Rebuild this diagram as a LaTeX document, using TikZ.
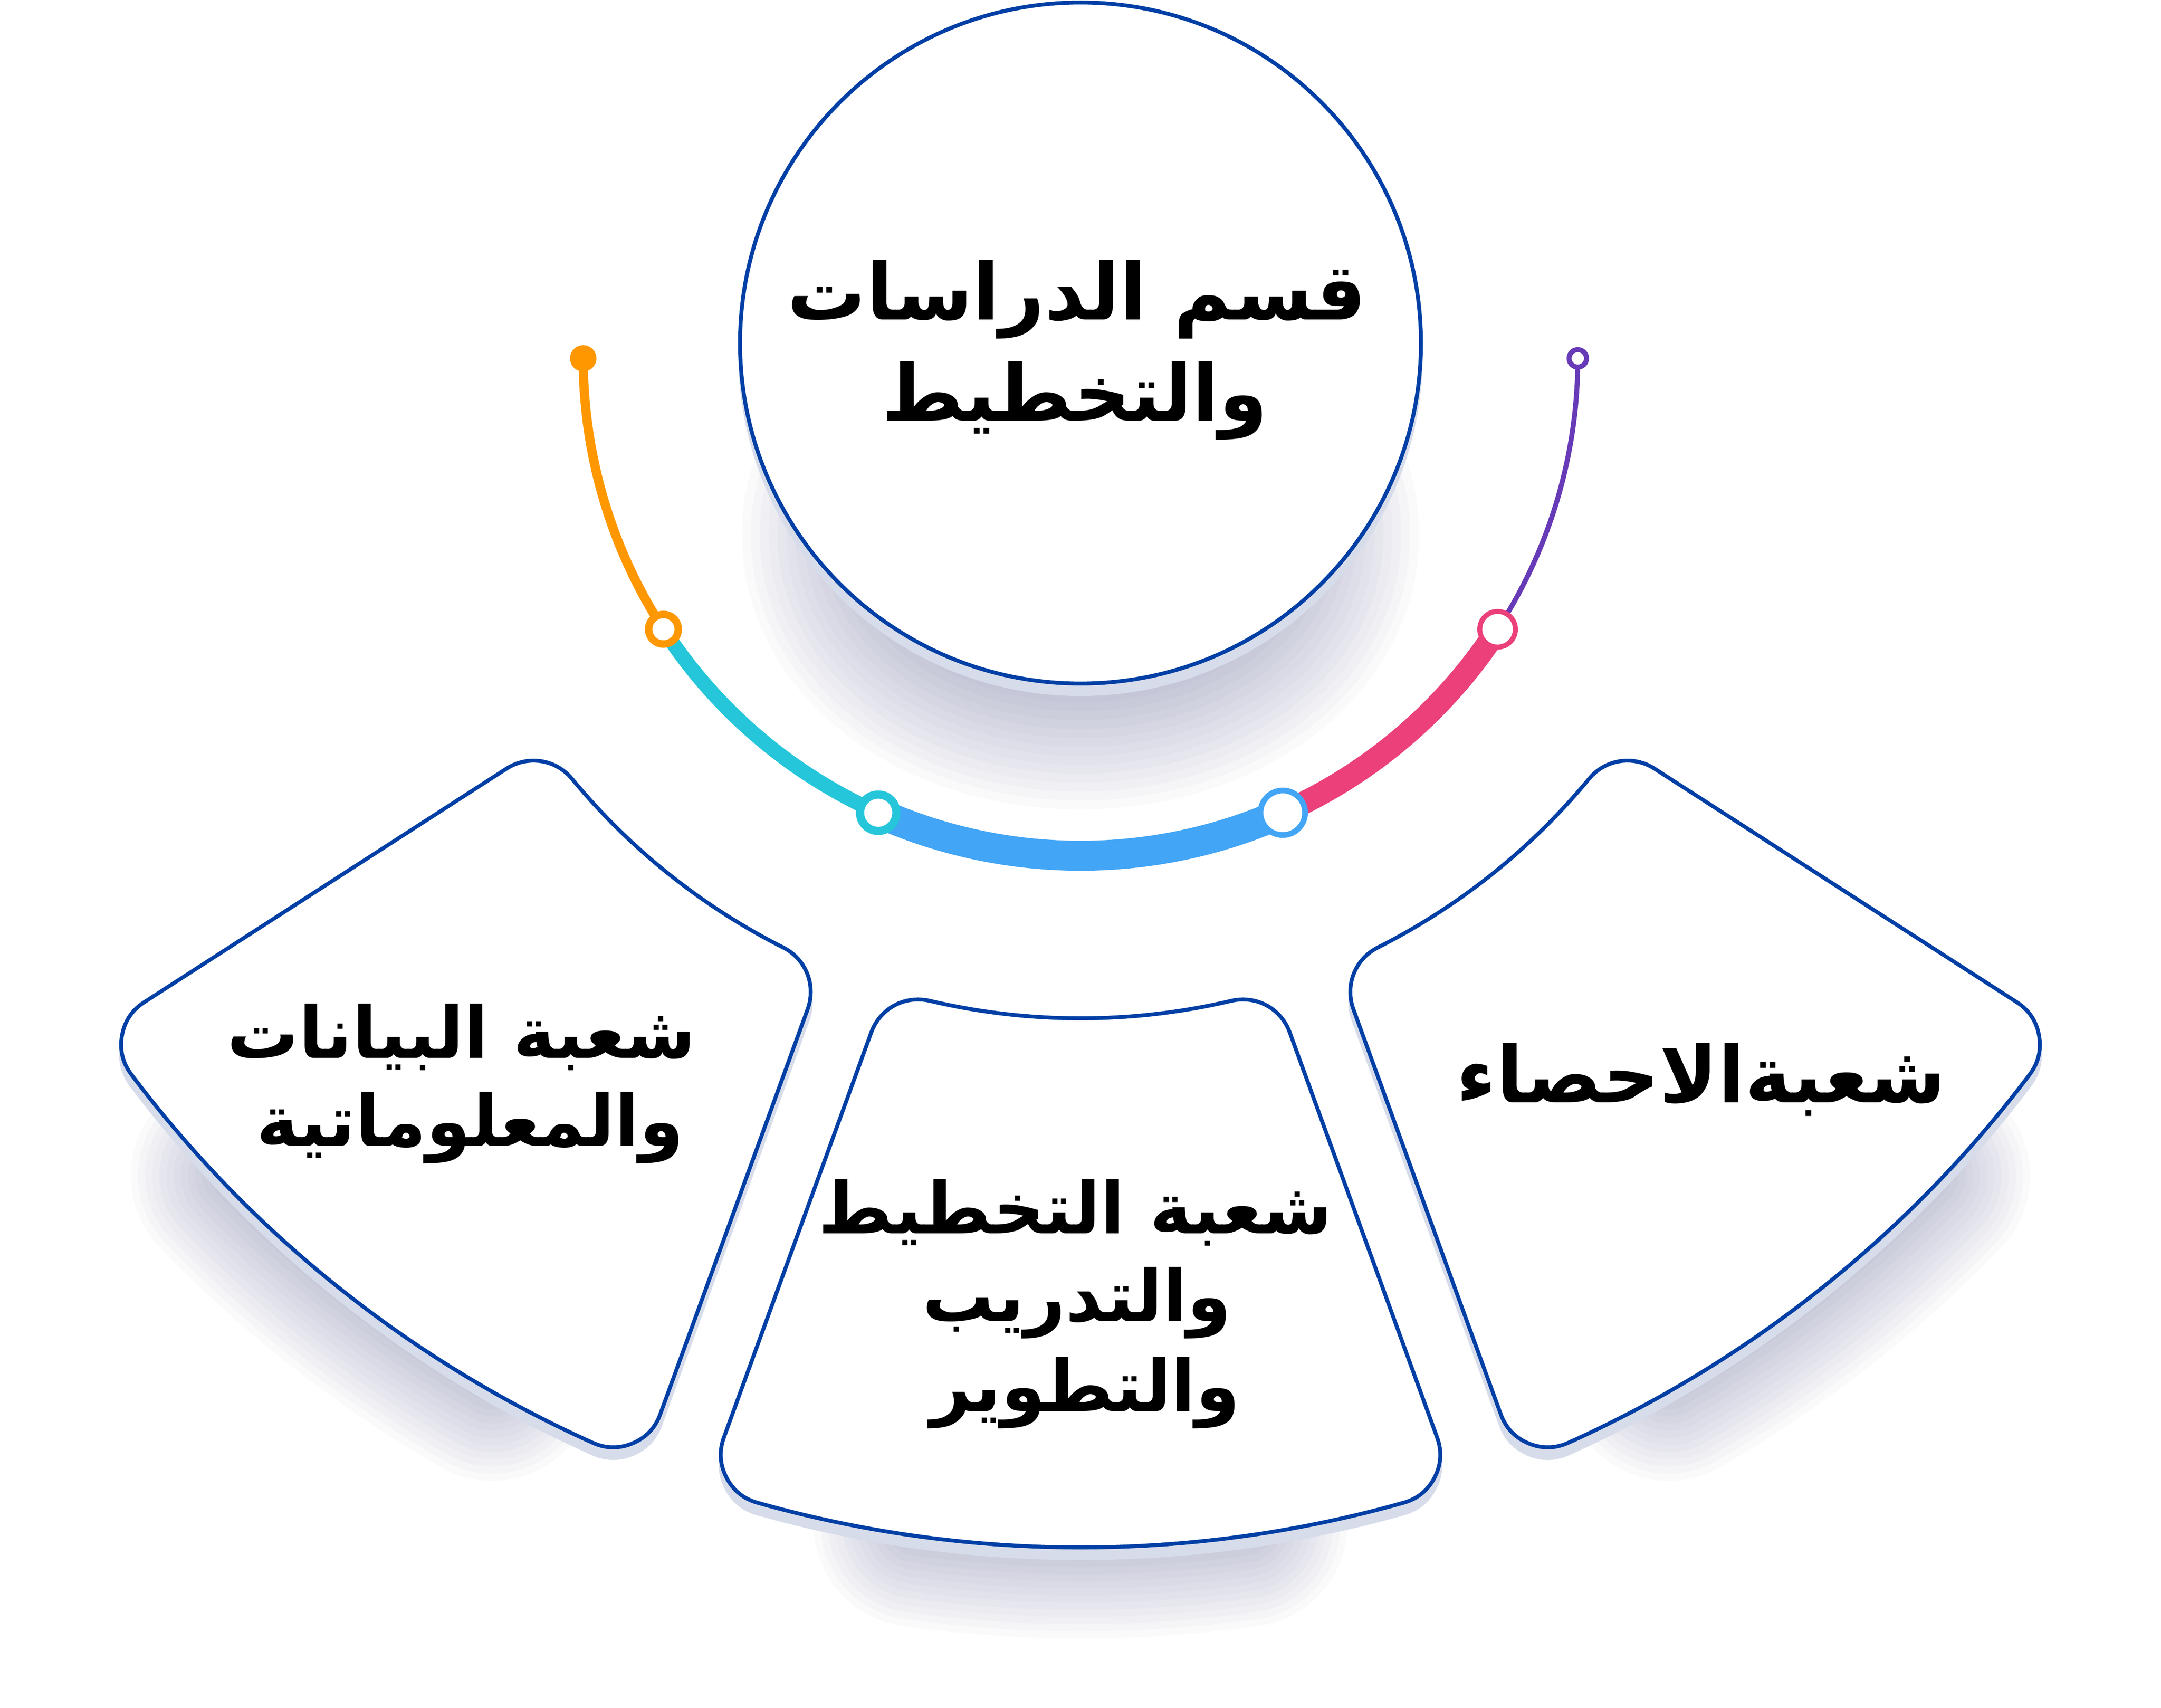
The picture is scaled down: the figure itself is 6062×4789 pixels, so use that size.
\documentclass[tikz,border=0pt]{standalone}
\usepackage{fontspec}
\newfontfamily\arabicfont[Script=Arabic]{DejaVu Sans}
\TeXXeTstate=1
\definecolor{deptblue}{RGB}{0,63,165}
\definecolor{bandgray}{RGB}{215,220,234}
\definecolor{hazeblue}{RGB}{100,105,155}
\definecolor{arcamber}{RGB}{255,152,0}
\definecolor{arcteal}{RGB}{38,198,218}
\definecolor{arcsky}{RGB}{66,165,245}
\definecolor{arcpink}{RGB}{236,64,122}
\definecolor{arcviolet}{RGB}{103,58,183}

% inner outlines of the three ring pieces (about the ring centre)
\newcommand\leftpiece{(142.98:3195) arc[start angle=142.98, end angle=114.22, radius=3195] -- (116.78:1991) arc[start angle=116.78, end angle=140.42, radius=1991] -- cycle}
\newcommand\midpiece{(105.78:3195) arc[start angle=105.78, end angle=74.22, radius=3195] -- (76.78:1991) arc[start angle=76.78, end angle=103.22, radius=1991] -- cycle}
\newcommand\rightpiece{(65.78:3195) arc[start angle=65.78, end angle=37.02, radius=3195] -- (39.58:1991) arc[start angle=39.58, end angle=63.22, radius=1991] -- cycle}
\newcommand\hazepath[2]{(#1:2900) arc[start angle=#1, end angle=#2, radius=2900] -- (#2:3300) arc[start angle=#2, end angle=#1, radius=3300] -- cycle}

\tikzset{
    haze/.style={draw=hazeblue, draw opacity=0.03, line join=round},
    band/.style={draw=bandgray, fill=bandgray, line width=72.75pt, line join=round},
    rim/.style={draw=deptblue, fill=deptblue, line width=72.75pt, line join=round},
    face/.style={draw=white, fill=white, line width=67.25pt, line join=round},
    ring/.style={circle, fill=white, inner sep=0pt},
    deptlabel/.style={font=\arabicfont\bfseries\fontsize{55}{70}\selectfont, inner sep=0pt, anchor=base},
    deptsmall/.style={deptlabel, font=\arabicfont\bfseries\fontsize{50}{62}\selectfont}
}

\begin{document}
\begin{tikzpicture}[x=0.25pt, y=-0.25pt]
    \useasboundingbox[fill=white] (0,0) rectangle (6062,4789);

    % soft shadows
    \foreach \k in {1,...,14}
        \draw[haze, line width={(25*\k)*0.5pt}] (3031,1500) ellipse[x radius=600, y radius=420];
    \begin{scope}[shift={(3031,1005)}]
        \foreach \k in {1,...,14} {
            \draw[haze, line width={(10+20*\k)*0.5pt}] \hazepath{136}{120};
            \draw[haze, line width={(10+20*\k)*0.5pt}] \hazepath{98}{82};
            \draw[haze, line width={(10+20*\k)*0.5pt}] \hazepath{60}{44};
        }
        \begin{scope}[shift={(0,30)}]
            \filldraw[band] \leftpiece;
            \filldraw[band] \midpiece;
            \filldraw[band] \rightpiece;
        \end{scope}
        % the three pieces
        \filldraw[rim] \leftpiece;  \filldraw[face] \leftpiece;
        \filldraw[rim] \midpiece;   \filldraw[face] \midpiece;
        \filldraw[rim] \rightpiece; \filldraw[face] \rightpiece;

        \coordinate (s0) at (180:1395);
        \coordinate (s1) at (147:1395);
        \coordinate (s2) at (114:1395);
        \coordinate (s3) at (66:1395);
        \coordinate (s4) at (33:1395);
        \coordinate (s5) at (0:1395);
    \end{scope}

    % head circle
    \fill[bandgray] (3031,992) circle[radius=960];
    \node[circle, draw=deptblue, fill=white, line width=2.75pt, minimum size=477.5pt, inner sep=0pt] (head) at (3031,962) {};

    % coloured arc
    \draw[arcamber, line width=6.5pt] (s0) arc[start angle=180, end angle=147, radius=1395];
    \draw[arcteal, line width=10.25pt] (s1) arc[start angle=147, end angle=114, radius=1395];
    \draw[arcsky, line width=21pt] (s2) arc[start angle=114, end angle=66, radius=1395];
    \draw[arcpink, line width=16pt] (s3) arc[start angle=66, end angle=33, radius=1395];
    \draw[arcviolet, line width=3.5pt] (s4) arc[start angle=33, end angle=0, radius=1395];

    \node[circle, fill=arcamber, inner sep=0pt, minimum size=18.5pt] (m0) at (s0) {};
    \node[ring, draw=arcamber, line width=5.25pt, minimum size=20.75pt] (m1) at (s1) {};
    \node[ring, draw=arcteal, line width=5.75pt, minimum size=25.5pt] (m2) at (s2) {};
    \node[ring, draw=arcsky, line width=4pt, minimum size=31.25pt] (m3) at (s3) {};
    \node[ring, draw=arcpink, line width=3.5pt, minimum size=25pt] (m4) at (s4) {};
    \node[ring, draw=arcviolet, line width=3.5pt, minimum size=12.25pt] (m5) at (s5) {};

    % texts
    \node[deptlabel] (studies) at (3021,897) {\beginR قسم الدراسات\endR};
    \node[deptlabel] (planning) at (3015,1180) {\beginR والتخطيط\endR};

    \node[deptsmall] (data) at (1295,2967) {\beginR شعبة البيانات\endR};
    \node[deptsmall] (info) at (1319,3215) {\beginR والمعلوماتية\endR};

    \node[deptsmall] (plan) at (3017,3460) {\beginR شعبة التخطيط\endR};
    \node[deptsmall] (train) at (3021,3706) {\beginR والتدريب\endR};
    \node[deptsmall] (devel) at (3044,3958) {\beginR والتطوير\endR};

    \node[deptlabel] (stats) at (4772,3092) {\beginR شعبةالاحصاء\endR};
\end{tikzpicture}
\end{document}
